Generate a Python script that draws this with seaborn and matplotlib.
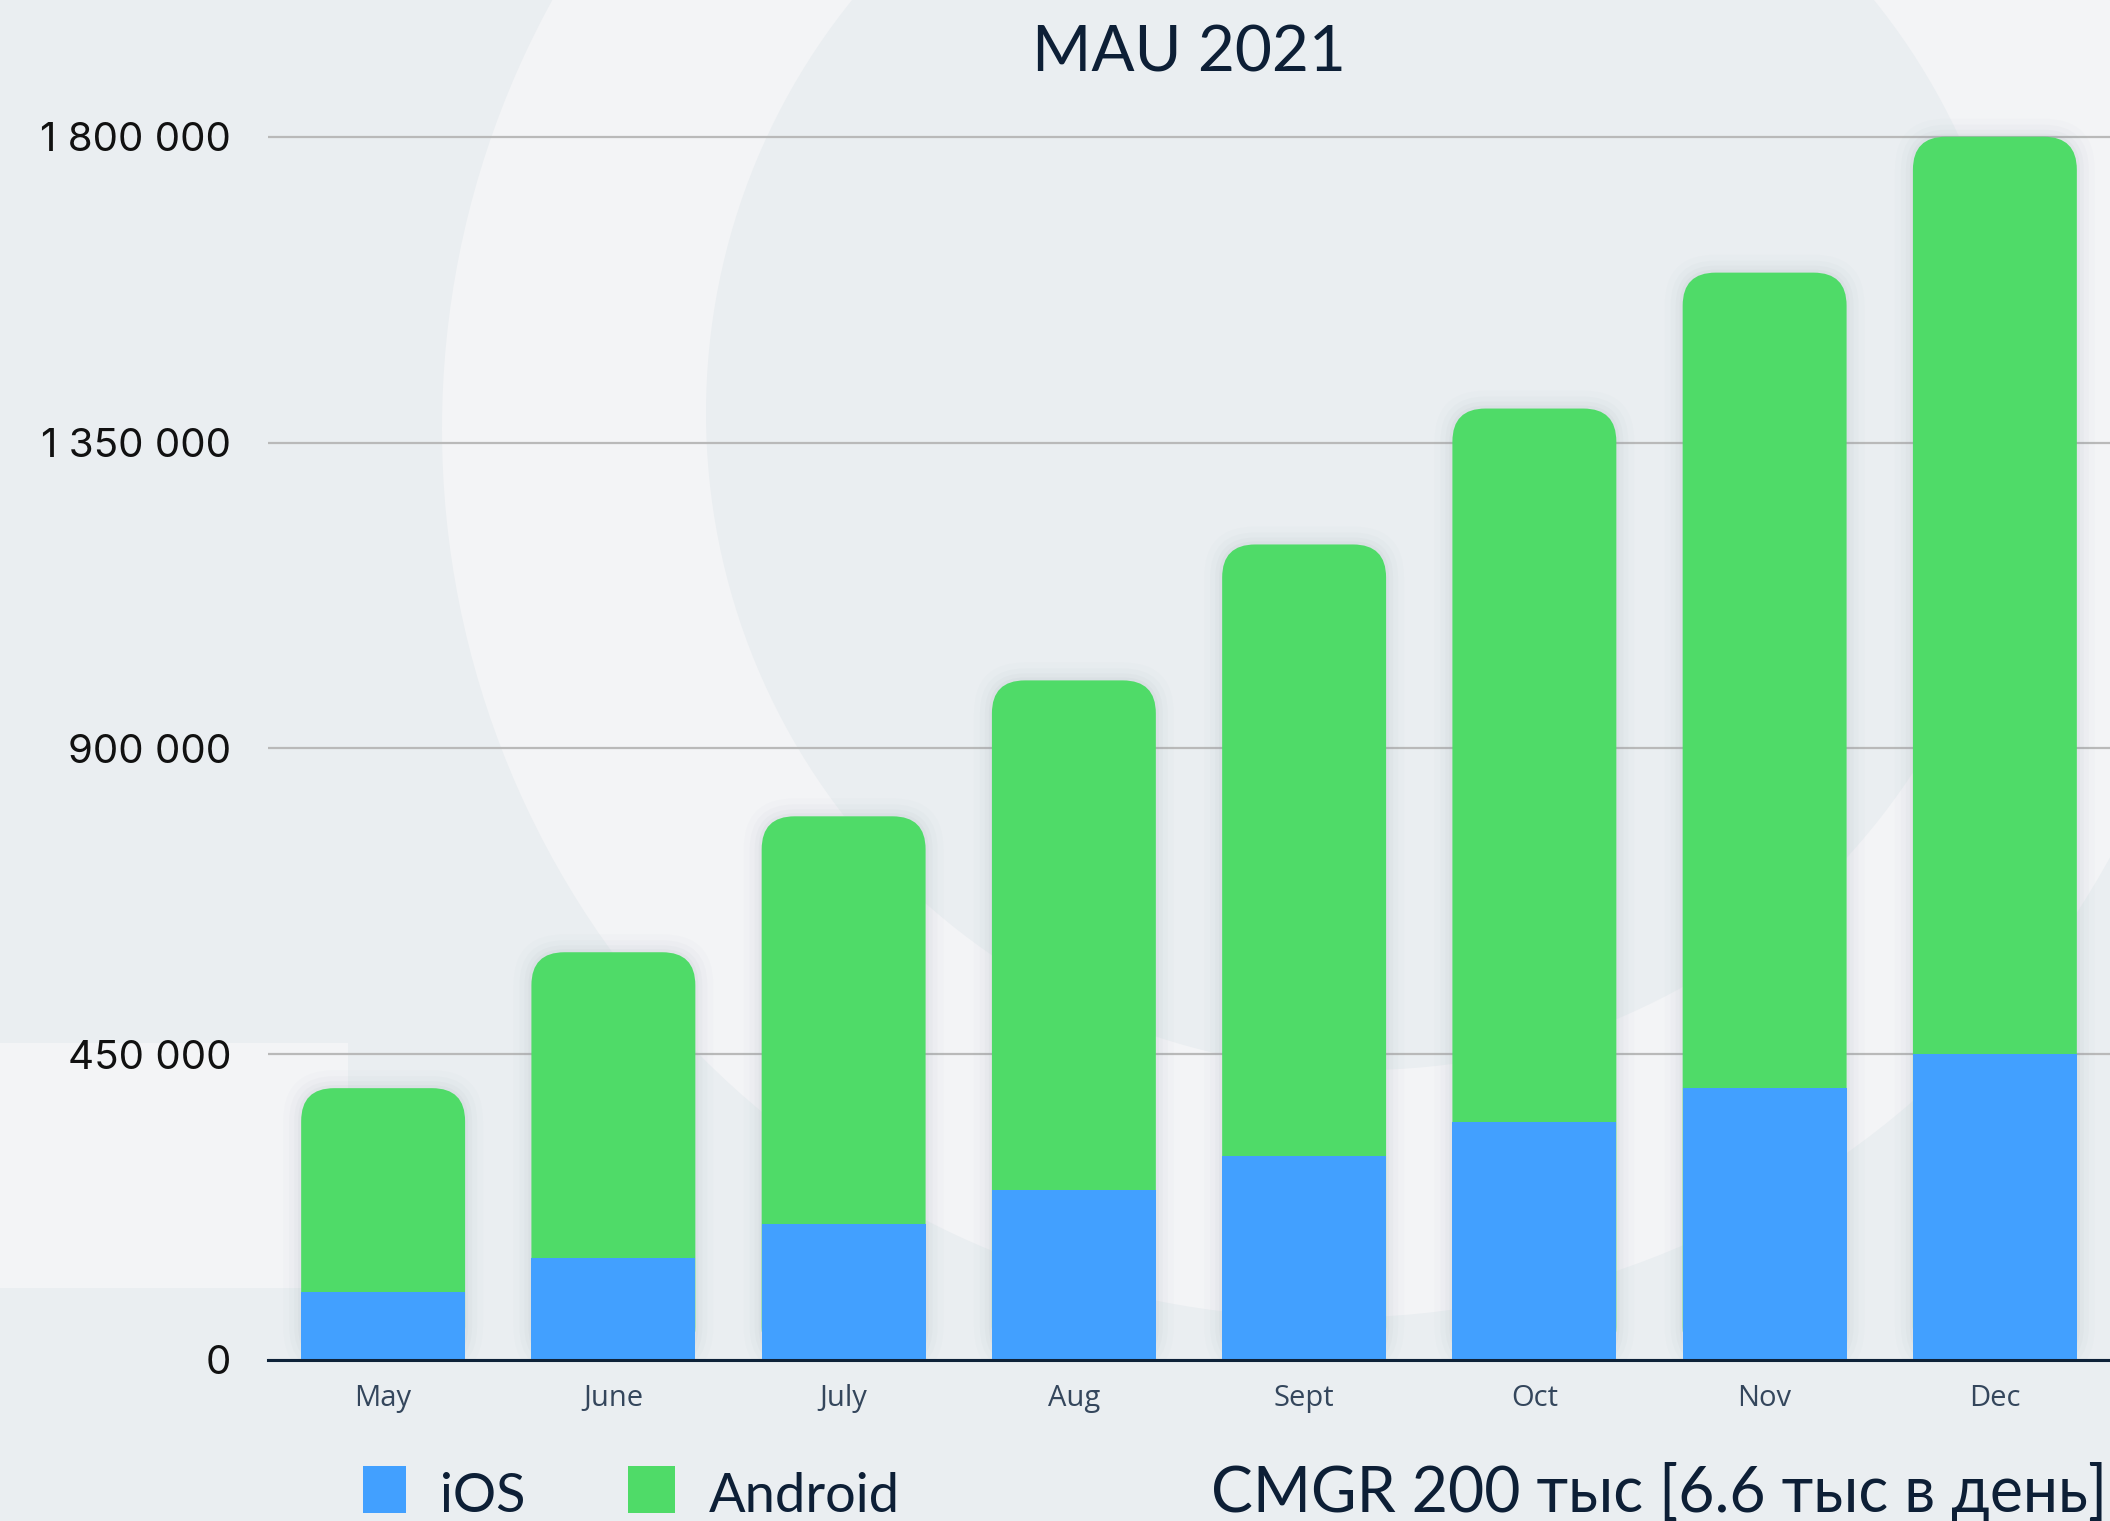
import numpy as np
import pandas as pd
import matplotlib
matplotlib.use("Agg")
import matplotlib.pyplot as plt
import seaborn as sns
from matplotlib.patches import FancyBboxPatch, Circle, Rectangle

# ---------------- data ----------------
months = ["May", "June", "July", "Aug", "Sept", "Oct", "Nov", "Dec"]
ios = [100000, 150000, 200000, 250000, 300000, 350000, 400000, 450000]
android = [300000, 450000, 600000, 750000, 900000, 1050000, 1200000, 1350000]
yticks = [0, 450000, 900000, 1350000, 1800000]
title_text = "MAU 2021"
legend_labels = ["iOS", "Android"]
note_text = "CMGR 200 тыс [6.6 тыс в день]"

total = [i + a for i, a in zip(ios, android)]
df = pd.DataFrame({"month": months, "ios": ios, "total": total})

# ---------------- style ----------------
GREEN = "#4fdb68"
BLUE = "#42a0ff"
BG = "#eaeef1"
LIGHT = "#f3f4f6"
NAVY = "#0d1f36"

W, H = 2110, 1521
fig = plt.figure(figsize=(W / 100, H / 100), dpi=100)
fig.patch.set_facecolor(BG)

# background decoration in pixel coordinates
bg = fig.add_axes([0, 0, 1, 1])
bg.set_xlim(0, W)
bg.set_ylim(H, 0)
bg.axis("off")
bg.set_zorder(-5)
bg.add_patch(Circle((1331, 429), 889, facecolor=LIGHT, lw=0))
bg.add_patch(Circle((1363, 413), 657, facecolor=BG, lw=0))
bg.add_patch(Rectangle((0, 1043), 348, 245, facecolor=LIGHT, lw=0))

# main axes geometry
left_px, zero_px, top_tick_px = 268, 1360, 136.7
ymax_tick = 1800000
px_per_y = (zero_px - top_tick_px) / ymax_tick
ymax = 1850000
ax_h_px = ymax * px_per_y
ax = fig.add_axes([left_px / W, (H - zero_px) / H, 1 - left_px / W, ax_h_px / H])
ax.set_facecolor("none")
n = len(months)
px_per_x = (W - left_px) / n

BAR_W = 0.712
sns.barplot(data=df, x="month", y="total", color=GREEN, saturation=1,
            width=BAR_W, ax=ax, linewidth=0)
green_patches = list(ax.patches)

R = 33  # corner radius in px
rx = R / px_per_x
aspect = px_per_x / px_per_y
for p in green_patches:
    x0, y0 = p.get_x(), p.get_y()
    w, h = p.get_width(), p.get_height()
    p.remove()
    # soft shadow
    for k, alpha in [(18, 0.025), (12, 0.035), (7, 0.045), (3, 0.06)]:
        pad = k / px_per_x
        sh = FancyBboxPatch((x0, y0), w, h,
                            boxstyle=f"round,pad={pad},rounding_size={rx + pad}",
                            mutation_aspect=aspect, facecolor="#8c99a6",
                            edgecolor="none", alpha=alpha, zorder=1.5)
        ax.add_patch(sh)
    fb = FancyBboxPatch((x0, y0), w, h,
                        boxstyle=f"round,pad=0,rounding_size={rx}",
                        mutation_aspect=aspect, facecolor=GREEN,
                        edgecolor="none", zorder=2, clip_on=False)
    ax.add_patch(fb)

sns.barplot(data=df, x="month", y="ios", color=BLUE, saturation=1,
            width=BAR_W, ax=ax, linewidth=0)
for p in ax.patches:
    if p.get_facecolor()[:3] == matplotlib.colors.to_rgb(BLUE):
        p.set_zorder(3)
        p.set_clip_on(False)

ax.set_xlim(-0.5, n - 0.5)
ax.set_ylim(0, ymax)
ax.set_xlabel("")
ax.set_ylabel("")

# grid and spines
ax.set_yticks(yticks)
ax.set_yticklabels([f"{v:,}".replace(",", " ") for v in yticks])
ax.yaxis.grid(True, color="#b9b9b9", linewidth=1.6)
ax.xaxis.grid(False)
ax.set_axisbelow(True)
for s in ["left", "right", "top"]:
    ax.spines[s].set_visible(False)
ax.spines["bottom"].set_color("#0e2239")
ax.spines["bottom"].set_linewidth(2.2)
ax.spines["bottom"].set_zorder(4)

ax.tick_params(axis="y", length=0, pad=26.6, labelsize=29, labelcolor="#111111")
ax.tick_params(axis="x", length=0, pad=17, labelsize=21, labelcolor="#34465c")
for lbl in ax.get_yticklabels():
    lbl.set_fontfamily(["Inter", "DejaVu Sans"])
for lbl in ax.get_xticklabels():
    lbl.set_fontfamily(["Open Sans", "DejaVu Sans"])

# title
bg.text((left_px + W) / 2, 71, title_text, ha="center", va="baseline",
        fontsize=46, color=NAVY, family=["Lato", "Noto Sans", "DejaVu Sans"])

# legend (manual)
bg.add_patch(Rectangle((363, 1466), 43, 47, facecolor=BLUE, lw=0))
bg.text(440, 1512, legend_labels[0], ha="left", va="baseline", fontsize=39,
        color=NAVY, family=["Lato", "Noto Sans", "DejaVu Sans"])
bg.add_patch(Rectangle((628, 1466), 47, 47, facecolor=GREEN, lw=0))
bg.text(709, 1512, legend_labels[1], ha="left", va="baseline", fontsize=39,
        color=NAVY, family=["Lato", "Noto Sans", "DejaVu Sans"])

# note
bg.text(1211, 1512, note_text, ha="left", va="baseline", fontsize=45,
        color=NAVY, family=["Lato", "Noto Sans", "DejaVu Sans"])

fig.savefig("out.png", dpi=100, facecolor=fig.get_facecolor())
